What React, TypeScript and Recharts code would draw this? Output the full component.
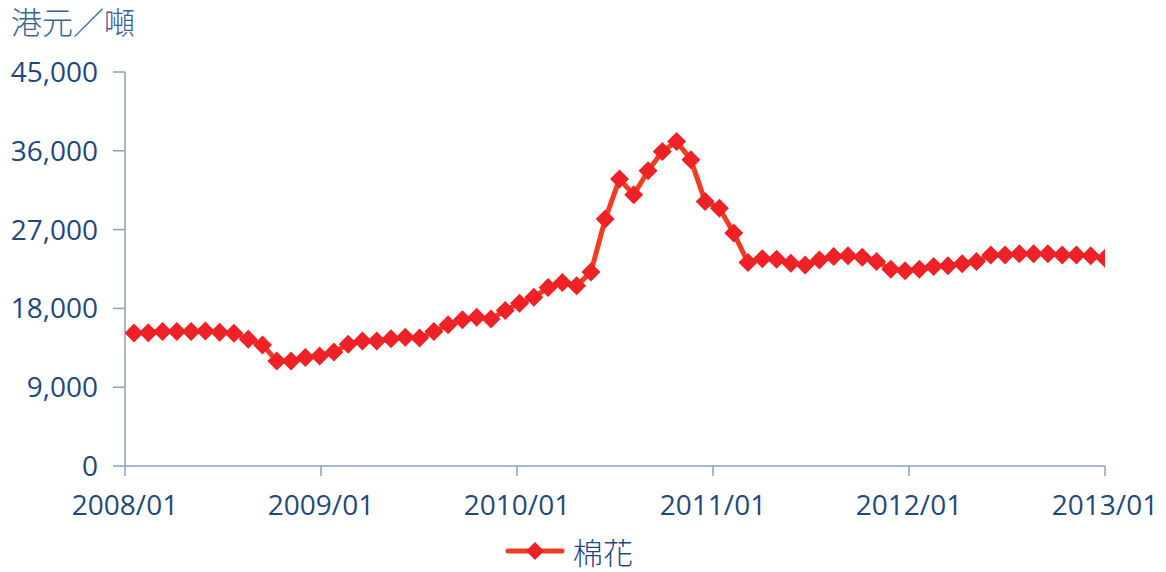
import { Line, LineChart, XAxis, YAxis } from "recharts";

const cotton: number[] = [
  15200, 15230, 15350, 15350, 15350, 15420, 15280, 15160, 14480, 13830,
  12000, 12000, 12380, 12570, 13030, 13910, 14290, 14290, 14520, 14700,
  14620, 15350, 16120, 16690, 17000, 16800, 17750, 18600, 19280, 20380,
  20950, 20600, 22150, 28200, 32770, 30970, 33720, 35920, 37060, 34970,
  30200, 29450, 26600, 23240, 23680, 23620, 23160, 22970, 23540, 23920,
  24000, 23850, 23350, 22480, 22290, 22480, 22780, 22860, 23090, 23350,
  24110, 24110, 24230, 24230, 24230, 24110, 24110, 24000, 23730,
];

const xTickLabels = ["2008/01", "2009/01", "2010/01", "2011/01", "2012/01", "2013/01"];
const yTicks = [0, 9000, 18000, 27000, 36000, 45000];

const data = cotton.map((value, i) => ({ i, value }));

// x axis spans from just before the first point to the last point
const X_MIN = -0.63;
const X_MAX = data.length - 1;
const xTicks = xTickLabels.map(
  (_, k) => X_MIN + (k * (X_MAX - X_MIN)) / (xTickLabels.length - 1)
);

const TEXT = "#1f497d";
const AXIS = "#8ea0bb";
const LINE = "#f23d22";
const MARK = "#ee2226";
const FONT = "'Open Sans', sans-serif";
const CJK = "'Noto Sans CJK TC', 'Noto Sans CJK SC', sans-serif";

const Diamond = (props: any) => {
  const { cx, cy } = props;
  if (cx == null || cy == null) return null;
  const r = 9.5;
  return (
    <polygon
      points={`${cx},${cy - r} ${cx + r},${cy} ${cx},${cy + r} ${cx - r},${cy}`}
      fill={MARK}
    />
  );
};

export default function App() {
  return (
    <div style={{ position: "absolute", left: 0, top: 0, width: 1166, height: 572, background: "#fff" }}>
      <div
        style={{
          position: "absolute",
          left: 11,
          top: 2,
          fontFamily: CJK,
          fontSize: 31,
          fontWeight: 300,
          color: "#3a6391",
          lineHeight: 1.2,
        }}
      >
        港元／噸
      </div>
      <LineChart
        width={1166}
        height={572}
        data={data}
        margin={{ top: 72, right: 61, left: 0, bottom: 0 }}
      >
        <XAxis
          type="number"
          dataKey="i"
          domain={[X_MIN, X_MAX]}
          ticks={xTicks}
          tickFormatter={(_v: number, idx: number) => xTickLabels[idx]}
          interval={0}
          height={106}
          stroke={AXIS}
          strokeWidth={1.5}
          tickSize={10}
          tickMargin={19}
          tick={{ fill: TEXT, fontSize: 28, fontFamily: FONT }}
          allowDataOverflow
        />
        <YAxis
          type="number"
          domain={[0, 45000]}
          ticks={yTicks}
          interval={0}
          width={125}
          stroke={AXIS}
          strokeWidth={1.5}
          tickSize={12}
          tickMargin={15}
          tick={{ fill: TEXT, fontSize: 28, fontFamily: FONT }}
          tickFormatter={(v: number) => v.toLocaleString("en-US")}
        />
        <Line
          type="linear"
          dataKey="value"
          stroke={LINE}
          strokeWidth={5}
          dot={<Diamond />}
          activeDot={false}
          isAnimationActive={false}
        />
      </LineChart>
      <div
        style={{
          position: "absolute",
          left: 505,
          top: 536,
          display: "flex",
          alignItems: "center",
        }}
      >
        <svg width={60} height={20}>
          <line x1={3} y1={10} x2={57} y2={10} stroke={LINE} strokeWidth={5} strokeLinecap="round" />
          <polygon points="30,1 39,10 30,19 21,10" fill={MARK} />
        </svg>
        <span style={{ fontFamily: CJK, fontSize: 30, fontWeight: 300, color: TEXT, marginLeft: 8, lineHeight: 1 }}>
          棉花
        </span>
      </div>
    </div>
  );
}
